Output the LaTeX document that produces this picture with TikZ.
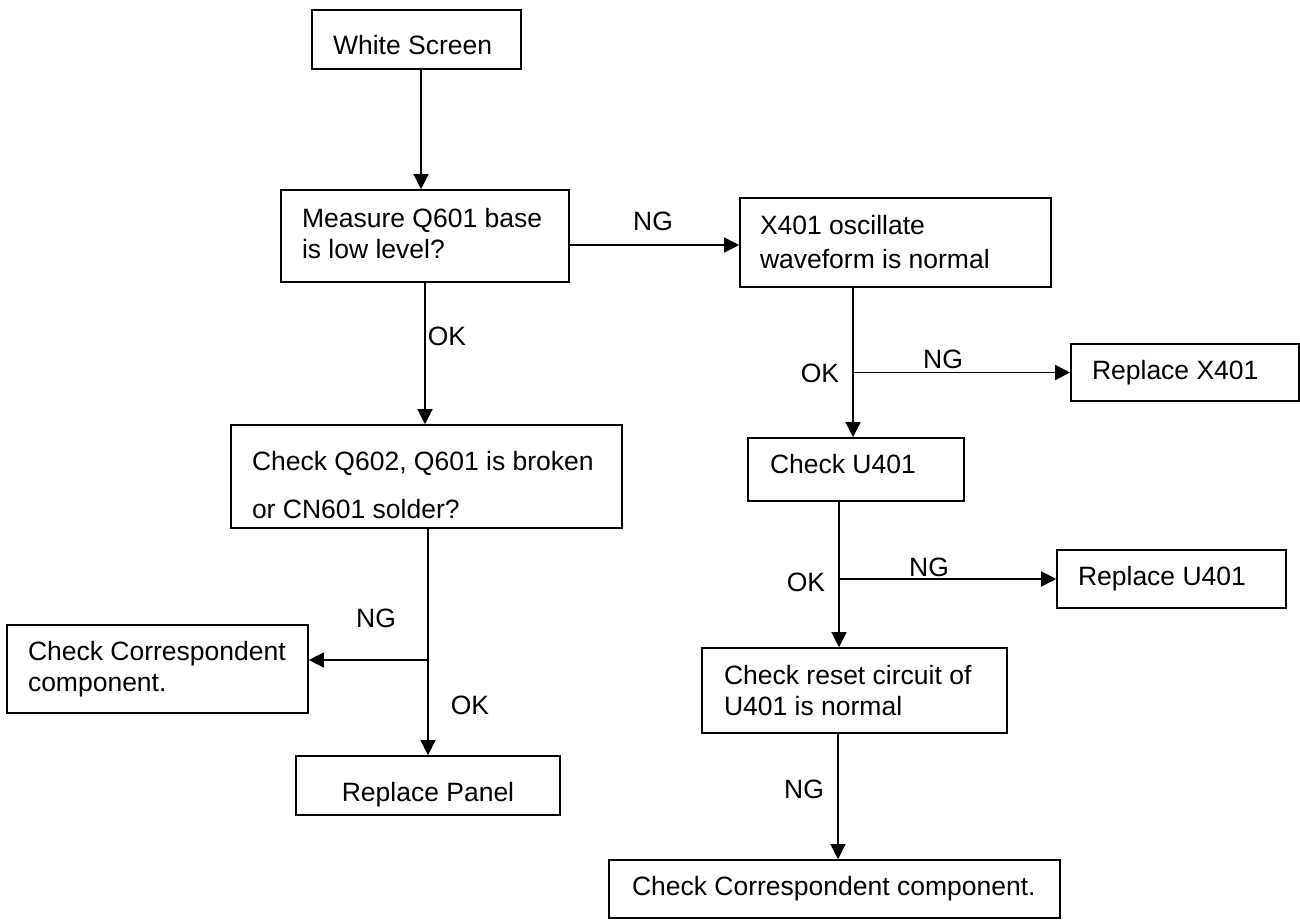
\documentclass[tikz,border=0pt]{standalone}
\usepackage{fontspec}
\setmainfont{Liberation Sans}
\usetikzlibrary{arrows.meta,calc}
\newcommand{\fcfont}{\fontsize{13.25pt}{15.5pt}\selectfont}
\tikzset{
  fcbox/.style={draw=black, line width=0.8pt, fill=white, align=flush left, inner ysep=1pt, font=\fcfont},
  fcarrow/.style={-{Triangle[length=7.5pt,width=7.5pt]}, line width=0.65pt, draw=black},
  fclabel/.style={font=\fcfont, inner sep=0pt}
}

\begin{document}
\begin{tikzpicture}[x=0.5pt,y=-0.5pt]
\useasboundingbox (0,0) rectangle (1300,920);
% boxes, left column
\node[fcbox, minimum width=104.5pt, minimum height=29.5pt, text width=83.5pt, inner xsep=10.5pt, text height=15.2pt] (ws) at (416.5,39.5) {White Screen};
\node[fcbox, minimum width=144pt, minimum height=46pt, text width=123pt, inner xsep=10.5pt] (ms) at (425,236) {Measure~Q601~base\\is low level?\rule[-3pt]{0pt}{3pt}};
\node[fcbox, minimum width=195.5pt, minimum height=51.5pt, text width=174.5pt, inner xsep=10.5pt] (cq) at (426.5,476.5) {\rule{0pt}{17.7pt}Check~Q602,~Q601~is~broken\\[8.5pt]or CN601 solder?};
\node[fcbox, minimum width=150.5pt, minimum height=44pt, text width=129.5pt, inner xsep=10.5pt] (lc) at (157.5,669) {Check~Correspondent\\component.};
\node[fcbox, minimum width=132pt, minimum height=29.5pt, align=center, text height=18.8pt, text depth=2.8pt] (rp) at (428,785.5) {Replace Panel};
% boxes, right column
\node[fcbox, minimum width=155.5pt, minimum height=44.5pt, text width=135.5pt, inner xsep=10pt] (xo) at (895.5,242.5) {X401 oscillate\\[1.5pt]waveform~is~normal};
\node[fcbox, minimum width=114pt, minimum height=28.5pt, text width=93pt, inner xsep=10.5pt] (rx) at (1185,372.5) {Replace X401};
\node[fcbox, minimum width=108pt, minimum height=31.5pt, text width=86pt, inner xsep=11pt, text depth=5.5pt] (cu) at (856,469.5) {Check U401};
\node[fcbox, minimum width=114.5pt, minimum height=29pt, text width=93.5pt, inner xsep=10.5pt] (ru) at (1171.5,579) {Replace U401};
\node[fcbox, minimum width=152.5pt, minimum height=42.5pt, text width=130.5pt, inner xsep=11pt] (rs) at (854.5,690.5) {Check~reset~circuit~of\\U401 is normal};
\node[fcbox, minimum width=225.5pt, minimum height=29pt, text width=202.5pt, inner xsep=11.5pt] (bb) at (834.5,889) {Check~Correspondent~component.};

% trunk points
\coordinate (trunkT) at ([xshift=2.25pt]ws.south);
\coordinate (joinM) at ([yshift=-4.5pt]ms.east);
\coordinate (trunkR1) at ([xshift=-1.5pt]cu.north);
\coordinate (trunkR2) at ([xshift=-8.5pt]cu.south);
\coordinate (trunkR3) at ([xshift=-8.25pt]rs.south);
\coordinate (joinL) at ([yshift=4.5pt]lc.east);

% connectors
\draw[fcarrow] (trunkT) -- (trunkT |- ms.north);
\draw[fcarrow] (joinM) -- (joinM -| xo.west);
\draw[fcarrow] (ms.south) -- (ms.south |- cq.north);
\draw[fcarrow] (rp.north |- cq.south) -- (rp.north);
\draw[fcarrow] (joinL -| rp.north) -- (joinL);
\draw[fcarrow] (trunkR1 |- xo.south) -- (trunkR1);
\draw[fcarrow] (trunkR1 |- rx.west) -- (rx.west);
\draw[fcarrow] (trunkR2) -- (trunkR2 |- rs.north);
\draw[fcarrow] (trunkR2 |- ru.west) -- (ru.west);
\draw[fcarrow] (trunkR3) -- (trunkR3 |- bb.north);

% branch labels
\node[fclabel] (ngM) at (653,221) {NG};
\node[fclabel] (okM) at (447,336) {OK};
\node[fclabel] (okX) at (820,373) {OK};
\node[fclabel] (ngX) at (943,359) {NG};
\node[fclabel] (okU) at (806,582) {OK};
\node[fclabel] (ngU) at (929,567) {NG};
\node[fclabel] (ngQ) at (376,618) {NG};
\node[fclabel] (okQ) at (470,705) {OK};
\node[fclabel] (ngR) at (804,789) {NG};
\end{tikzpicture}
\end{document}
